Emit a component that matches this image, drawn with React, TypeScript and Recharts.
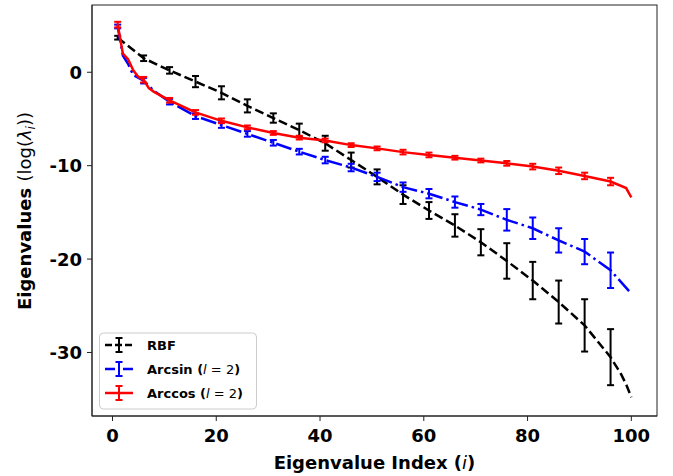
import React from 'react';
import { LineChart, Line, XAxis, YAxis, ErrorBar } from 'recharts';

// eigenvalue index (x) and log-eigenvalues
const rbfIndex = [1, 6, 11, 16, 21, 26, 31, 36, 41, 46, 51, 56, 61, 66, 71, 76, 81, 86, 91, 96, 98, 99, 100];
const rbfValues = [3.7, 1.5, 0.2, -1.0, -2.2, -3.6, -4.9, -6.2, -7.6, -9.4, -11.2, -13.1, -14.8, -16.4, -18.2, -20.2, -22.3, -24.6, -27.1, -30.5, -32.3, -33.4, -34.8];
const rbfErrors = [0.2, 0.3, 0.35, 0.6, 0.7, 0.7, 0.5, 0.7, 0.8, 0.8, 0.8, 1.0, 0.9, 1.2, 1.4, 1.9, 2.0, 2.3, 2.8, 3.0, null, null, null];

const arcsinIndex = [1, 2, 3, 4, 6, 8, 11, 16, 21, 26, 31, 36, 41, 46, 51, 56, 61, 66, 71, 76, 81, 86, 91, 96, 100];
const arcsinValues = [4.9, 1.8, 0.9, -0.3, -0.9, -2.0, -3.15, -4.7, -5.65, -6.6, -7.55, -8.5, -9.4, -10.2, -11.2, -12.3, -13.0, -13.9, -14.7, -15.8, -16.7, -18.0, -19.2, -21.2, -23.7];
const arcsinErrors = [0.2, null, null, null, 0.3, null, 0.3, 0.3, 0.3, 0.3, 0.3, 0.3, 0.35, 0.4, 0.45, 0.5, 0.5, 0.6, 0.6, 1.15, 1.15, 1.3, 1.35, 1.9, null];

const arccosIndex = [1, 2, 3, 4, 5, 6, 7, 8, 11, 16, 21, 26, 31, 36, 41, 46, 51, 56, 61, 66, 71, 76, 81, 86, 91, 96, 99, 100];
const arccosValues = [5.1, 2.0, 1.4, 0.2, -0.5, -0.8, -1.7, -2.1, -3.0, -4.3, -5.2, -5.9, -6.5, -7.0, -7.3, -7.8, -8.15, -8.55, -8.85, -9.15, -9.45, -9.75, -10.1, -10.55, -11.1, -11.7, -12.4, -13.4];
const arccosErrors = [0.3, null, null, null, null, 0.3, null, null, 0.25, 0.25, 0.25, 0.2, 0.2, 0.2, 0.2, 0.2, 0.2, 0.25, 0.25, 0.2, 0.2, 0.25, 0.3, 0.35, 0.35, 0.4, null, null];

const xTicks = [0, 20, 40, 60, 80, 100];
const yTicks = [-30, -20, -10, 0];

const build = (idx: number[], vals: number[], errs: (number | null)[]) =>
  idx.map((i, k) => ({ i, v: vals[k], e: errs[k] ?? undefined }));

const rbfData = build(rbfIndex, rbfValues, rbfErrors);
const arcsinData = build(arcsinIndex, arcsinValues, arcsinErrors);
const arccosData = build(arccosIndex, arccosValues, arccosErrors);

const FONT = 'DejaVu Sans, sans-serif';

const XTick = (props: any) => (
  <text x={props.x} y={442} textAnchor="middle" fontSize={18} fontWeight="bold" fontFamily={FONT} fill="#000">
    {props.payload.value}
  </text>
);

const YTick = (props: any) => (
  <text x={82} y={props.y + 6.5} textAnchor="end" fontSize={18} fontWeight="bold" fontFamily={FONT} fill="#000">
    {props.payload.value}
  </text>
);

function LegendIcon({ y, color, dash }: { y: number; color: string; dash?: string }) {
  return (
    <g>
      <line x1={105} y1={y} x2={133} y2={y} stroke={color} strokeWidth={2.5} strokeDasharray={dash} />
      <line x1={119} y1={y - 7} x2={119} y2={y + 7} stroke={color} strokeWidth={2} />
      <line x1={115.5} y1={y - 7} x2={122.5} y2={y - 7} stroke={color} strokeWidth={2} />
      <line x1={115.5} y1={y + 7} x2={122.5} y2={y + 7} stroke={color} strokeWidth={2} />
    </g>
  );
}

export default function App() {
  return (
    <div style={{ position: 'absolute', left: 0, top: 0, width: 673, height: 476, background: '#fff' }}>
      <LineChart width={673} height={476} margin={{ top: 5, right: 16, left: 0, bottom: 0 }}>
        <XAxis
          dataKey="i"
          type="number"
          domain={[-3.95, 104.95]}
          ticks={xTicks}
          allowDataOverflow
          height={60}
          tickSize={5}
          tick={<XTick />}
          stroke="#222"
        />
        <YAxis
          type="number"
          domain={[-36.8, 7.2]}
          ticks={yTicks}
          allowDataOverflow
          width={92}
          tickSize={5}
          tick={<YTick />}
          stroke="#222"
        />
        <Line
          data={rbfData}
          dataKey="v"
          stroke="#000"
          strokeWidth={2.5}
          strokeDasharray="9 4"
          dot={false}
          isAnimationActive={false}
        >
          <ErrorBar dataKey="e" direction="y" width={3.5} stroke="#000" strokeWidth={2} />
        </Line>
        <Line
          data={arcsinData}
          dataKey="v"
          stroke="#0000ff"
          strokeWidth={2.5}
          strokeDasharray="16 4 2.5 4"
          dot={false}
          isAnimationActive={false}
        >
          <ErrorBar dataKey="e" direction="y" width={3.5} stroke="#0000ff" strokeWidth={2} />
        </Line>
        <Line
          data={arccosData}
          dataKey="v"
          stroke="#ff0000"
          strokeWidth={2.5}
          dot={false}
          isAnimationActive={false}
        >
          <ErrorBar dataKey="e" direction="y" width={3.5} stroke="#ff0000" strokeWidth={2} />
        </Line>
      </LineChart>
      <svg width={673} height={476} style={{ position: 'absolute', left: 0, top: 0, pointerEvents: 'none' }} fontFamily={FONT}>
        <rect x={92} y={5} width={565} height={411} fill="none" stroke="#222" strokeWidth={1} />
        <text x={374.5} y={469} textAnchor="middle" fontSize={18} fontWeight="bold" fill="#000">
          Eigenvalue Index (<tspan fontStyle="italic" fontWeight="normal">i</tspan>)
        </text>
        <text transform="translate(31,211) rotate(-90)" textAnchor="middle" fontSize={18} fill="#000">
          <tspan fontWeight="bold">Eigenvalues </tspan>
          <tspan>(log(</tspan>
          <tspan fontStyle="italic">λ</tspan>
          <tspan fontStyle="italic" fontSize={12} dy={4}>i</tspan>
          <tspan dy={-4}>))</tspan>
        </text>
        <rect x={99.5} y={333} width={157} height={76} rx={4} fill="#fff" fillOpacity={0.8} stroke="#ccc" />
        <LegendIcon y={345} color="#000" dash="7 3" />
        <LegendIcon y={369} color="#0000ff" dash="10 3 2 3" />
        <LegendIcon y={393} color="#ff0000" />
        <g fontSize={13} fontWeight="bold" fill="#000">
          <text x={147} y={350}>RBF</text>
          <text x={147} y={374}>
            Arcsin (<tspan fontStyle="italic" fontWeight="normal">l</tspan>
            <tspan fontWeight="normal"> = 2</tspan>)
          </text>
          <text x={147} y={398}>
            Arccos (<tspan fontStyle="italic" fontWeight="normal">l</tspan>
            <tspan fontWeight="normal"> = 2</tspan>)
          </text>
        </g>
      </svg>
    </div>
  );
}
